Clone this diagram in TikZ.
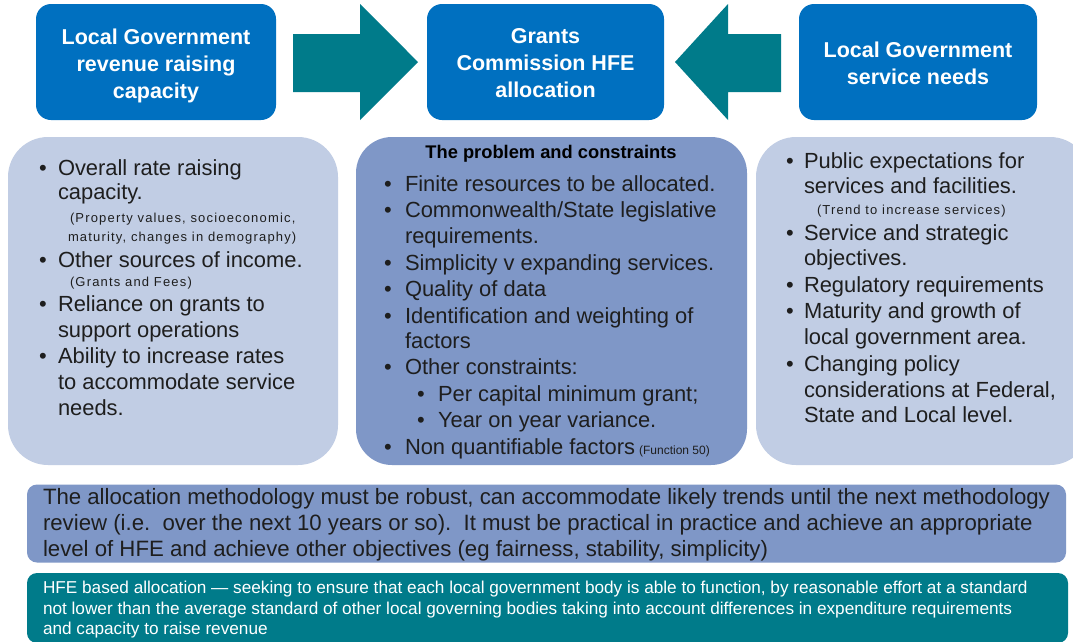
\documentclass[tikz,border=0pt]{standalone}
\usepackage{fontspec}
\setmainfont{Liberation Sans}
\definecolor{topblue}{RGB}{0,112,192}
\definecolor{tealfill}{RGB}{0,123,138}
\definecolor{palepanel}{RGB}{193,205,228}
\definecolor{midpanel}{RGB}{127,151,199}
\definecolor{bodyink}{RGB}{30,30,30}
\newcommand\bodyfont{\fontsize{21.9}{26}\selectfont}
\newcommand\notefont{\fontsize{13}{16}\selectfont\addfontfeature{LetterSpace=9}}
\begin{document}
\begin{tikzpicture}[x=1pt,y=-1pt,
  every node/.style={inner sep=0pt,outer sep=0pt},
  headbox/.style={fill=topblue,rounded corners=15pt,minimum height=116pt},
  headtext/.style={text=white,align=center,font=\bfseries\fontsize{21.5}{27}\selectfont},
  panel/.style={rounded corners=40pt,minimum height=328pt},
  blockarrow/.style={fill=tealfill},
  line/.style={anchor=base west,text=bodyink,font=\bodyfont},
  dot/.style={anchor=base,text=bodyink,font=\bodyfont},
  note/.style={anchor=base west,text=bodyink,font=\notefont},
  barline/.style={anchor=base west,text=bodyink,font=\fontsize{22.2}{26}\selectfont},
  hfeline/.style={anchor=base west,text=white,font=\fontsize{17.2}{20}\selectfont},
]
\useasboundingbox (0,0) rectangle (1073,641);
\clip (0,0) rectangle (1073,641);
\fill[white] (0,0) rectangle (1073,641);

% headline boxes
\node[headbox,minimum width=240pt] (rev) at (156,62) {};
\node[headbox,minimum width=237pt] (hfe) at (545.5,62) {};
\node[headbox,minimum width=238pt] (need) at (918,62) {};
\node[headtext] (revtitle) at ([yshift=-4pt]rev.center) {Local Government\\revenue raising\\capacity};
\node[headtext] (hfetitle) at ([yshift=-1pt]hfe.center) {Grants\\Commission HFE\\allocation};
\node[headtext] (needtitle) at ([yshift=-1.5pt]need.center) {Local Government\\service needs};

% block arrows pointing at the allocation box
\fill[blockarrow] (293,34) -- (360,34) -- (360,4) -- (418,62) -- (360,120) -- (360,92) -- (293,92) -- cycle;
\fill[blockarrow] (781,34) -- (728,34) -- (728,4) -- (675,62) -- (728,120) -- (728,92) -- (781,92) -- cycle;

% three content panels
\node[panel,fill=palepanel,minimum width=330pt] (revpanel) at (173,301) {};
\node[panel,fill=midpanel,minimum width=391pt,rounded corners=36pt] (probpanel) at (551.5,301) {};
\node[panel,fill=palepanel,minimum width=334pt] (needpanel) at (923,301) {};

% revenue raising capacity
\foreach \y/\t [count=\i] in {168/{Overall rate raising},192/{capacity.},
    260/{Other sources of income.},304/{Reliance on grants to},330/{support operations},
    356/{Ability to increase rates},382/{to accommodate service},408/{needs.}}
  \node[line] (revline\i) at (58,\y+7.5) {\t};
\foreach \y [count=\i] in {168,260,304,356}
  \node[dot] (revdot\i) at (43,\y+7.5) {\textbullet};
\node[note] (revnote1) at (70,217+5) {(Property values, socioeconomic,};
\node[note] (revnote2) at (68,236+5) {maturity, changes in demography)};
\node[note] (revnote3) at (70,281+5) {(Grants and Fees)};

% the problem and constraints
\node[anchor=base,text=black,font=\bfseries\fontsize{18.3}{20}\selectfont] (probtitle) at (551,152+6.5) {The problem and constraints};
\foreach \y/\t [count=\i] in {184/{Finite resources to be allocated.},
    210/{Commonwealth/State legislative},236/{requirements.},
    263/{Simplicity v expanding services.},289/{Quality of data},
    316/{Identification and weighting of},341/{factors},367/{Other constraints:}}
  \node[line] (probline\i) at (405,\y+7.5) {\t};
\foreach \y [count=\i] in {184,210,263,289,316,367,447}
  \node[dot] (probdot\i) at (388,\y+7.5) {\textbullet};
\node[line] (probsub1) at (438,394+7.5) {Per capital minimum grant;};
\node[line] (probsub2) at (438,420+7.5) {Year on year variance.};
\node[dot] (probsubdot1) at (421,394+7.5) {\textbullet};
\node[dot] (probsubdot2) at (421,420+7.5) {\textbullet};
\node[line] (problast) at (405,447+7.5) {Non quantifiable factors};
\node[anchor=base west,text=bodyink,font=\fontsize{12}{14}\selectfont] (probnote) at ([xshift=4pt]problast.base east) {(Function 50)};

% service needs
\foreach \y/\t [count=\i] in {161/{Public expectations for},186/{services and facilities.},
    233/{Service and strategic},258/{objectives.},285/{Regulatory requirements},
    311/{Maturity and growth of},337/{local government area.},364/{Changing policy},
    390/{considerations at Federal,},415/{State and Local level.}}
  \node[line] (needline\i) at (804,\y+7.5) {\t};
\foreach \y [count=\i] in {161,233,285,311,364}
  \node[dot] (needdot\i) at (790,\y+7.5) {\textbullet};
\node[note] (neednote) at (817,209+5) {(Trend to increase services)};

% methodology statement
\node[fill=midpanel,rounded corners=10pt,minimum width=1039pt,minimum height=78pt] (method) at (546.5,523.5) {};
\node[barline] (method1) at (43,497+7.5) {The allocation methodology must be robust, can accommodate likely trends until the next methodology};
\node[barline] (method2) at (43,523+7.5) {review (i.e.\ \ over the next 10 years or so).\ \ It must be practical in practice and achieve an appropriate};
\node[barline] (method3) at (43,549+7.5) {level of HFE and achieve other objectives (eg fairness, stability, simplicity)};

% HFE definition
\node[fill=tealfill,rounded corners=10pt,minimum width=1041pt,minimum height=70pt] (hfedef) at (547.5,608) {};
\node[hfeline] (hfe1) at (43,587+6) {HFE based allocation — seeking to ensure that each local government body is able to function, by reasonable effort at a standard};
\node[hfeline] (hfe2) at (43,608+6) {not lower than the average standard of other local governing bodies taking into account differences in expenditure requirements};
\node[hfeline] (hfe3) at (43,628+6) {and capacity to raise revenue};
\end{tikzpicture}
\end{document}
